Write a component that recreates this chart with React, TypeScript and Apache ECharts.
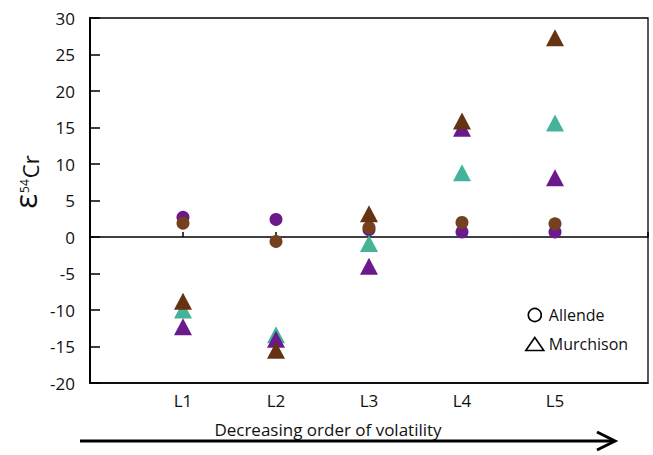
import React, { useEffect, useRef } from "react";
import * as echarts from "echarts";

const categories = ["L1", "L2", "L3", "L4", "L5"];
const allendePurple = [2.7, 2.4, 1.0, 0.7, 0.7];
const allendeBrown = [1.9, -0.6, 1.3, 2.0, 1.8];
const murchisonTeal = [-10.0, -13.4, -0.9, 8.8, 15.6];
const murchisonPurple = [-12.3, -14.0, -4.0, 14.9, 8.1];
const murchisonBrown = [-8.8, -15.5, 3.2, 15.9, 27.3];

const PURPLE = "#6c1a8b";
const TEAL = "#45b39a";
const BROWN_C = "#74401e";
const BROWN_T = "#653212";
const FONT = "'Open Sans', 'Noto Sans', sans-serif";

const toPts = (vals: number[]) => vals.map((v, i) => [i + 1, v]);

export default function App() {
  const ref = useRef<HTMLDivElement>(null);
  useEffect(() => {
    if (!ref.current) return;
    const chart = echarts.init(ref.current, null, { renderer: "svg" });
    const circle = (data: number[], color: string) => ({
      name: "Allende",
      type: "scatter",
      xAxisIndex: 1,
      symbol: "circle",
      symbolSize: 13,
      itemStyle: { color, opacity: 1 },
      data: toPts(data),
    });
    const tri = (data: number[], color: string) => ({
      name: "Murchison",
      type: "scatter",
      xAxisIndex: 1,
      symbol: "triangle",
      symbolSize: [18, 17],
      itemStyle: { color, opacity: 1 },
      data: toPts(data),
    });
    chart.setOption({
      animation: false,
      grid: {
        left: 90,
        top: 18,
        right: 5,
        bottom: 72,
        show: true,
        borderColor: "#000",
        borderWidth: 1.3,
      },
      xAxis: [
        {
          type: "value",
          position: "top",
          min: 0,
          max: 6,
          interval: 1,
          axisLine: { show: true, onZero: true, lineStyle: { color: "#000", width: 1.5 } },
          axisTick: { show: true, inside: false, length: 5, lineStyle: { color: "#000", width: 1.5 } },
          axisLabel: { show: false },
          splitLine: { show: false },
        },
        {
          type: "value",
          position: "bottom",
          min: 0,
          max: 6,
          interval: 1,
          axisLine: { show: true, onZero: false, lineStyle: { color: "#000", width: 1.5 } },
          axisTick: { show: false },
          axisLabel: {
            margin: 9,
            fontSize: 17,
            fontFamily: FONT,
            color: "#111",
            formatter: (v: number) => categories[v - 1] ?? "",
          },
          splitLine: { show: false },
        },
      ],
      yAxis: {
        type: "value",
        min: -20,
        max: 30,
        interval: 5,
        axisLine: { show: true, onZero: false, lineStyle: { color: "#000", width: 2 } },
        axisTick: { show: true, inside: true, length: 10, lineStyle: { color: "#000", width: 1.5 } },
        axisLabel: { margin: 15, fontSize: 17, fontFamily: FONT, color: "#111" },
        splitLine: { show: false },
      },
      legend: {
        orient: "vertical",
        left: 520,
        top: 302,
        itemWidth: 18,
        itemHeight: 13,
        itemGap: 13,
        selectedMode: false,
        textStyle: { fontSize: 16, fontFamily: FONT, color: "#111" },
        data: [
          { name: "Allende", icon: "circle", itemStyle: { color: "#fff", borderColor: "#000", borderWidth: 1.6 } },
          { name: "Murchison", icon: "triangle", itemStyle: { color: "#fff", borderColor: "#000", borderWidth: 1.6 } },
        ],
      },
      graphic: [
        {
          type: "text",
          x: 25,
          y: 182,
          rotation: Math.PI / 2,
          style: {
            text: "{e|ε}{s|54}{c|Cr}",
            x: 0,
            y: 0,
            align: "center",
            verticalAlign: "middle",
            fill: "#111",
            rich: {
              e: { fontSize: 31, fontFamily: FONT, verticalAlign: "bottom", fill: "#111" },
              s: { fontSize: 12, fontFamily: FONT, verticalAlign: "bottom", padding: [0, 1, 10, 1], fill: "#111" },
              c: { fontSize: 22, fontFamily: FONT, verticalAlign: "bottom", fill: "#111" },
            },
          },
        },
        {
          type: "text",
          x: 328,
          y: 429,
          style: {
            text: "Decreasing order of volatility",
            align: "center",
            verticalAlign: "middle",
            fontSize: 17,
            fontFamily: FONT,
            fill: "#111",
          },
        },
        {
          type: "line",
          shape: { x1: 80, y1: 441, x2: 613, y2: 441 },
          style: { stroke: "#000", lineWidth: 3 },
        },
        {
          type: "polyline",
          shape: { points: [[597, 432], [615, 441], [597, 450]] },
          style: { stroke: "#000", lineWidth: 3, fill: "none" },
        },
      ],
      series: [
        circle(allendePurple, PURPLE),
        circle(allendeBrown, BROWN_C),
        tri(murchisonTeal, TEAL),
        tri(murchisonPurple, PURPLE),
        tri(murchisonBrown, BROWN_T),
      ],
    });
    return () => chart.dispose();
  }, []);
  return (
    <div
      ref={ref}
      style={{ position: "fixed", left: 0, top: 0, width: 653, height: 455, background: "#fff" }}
    />
  );
}
